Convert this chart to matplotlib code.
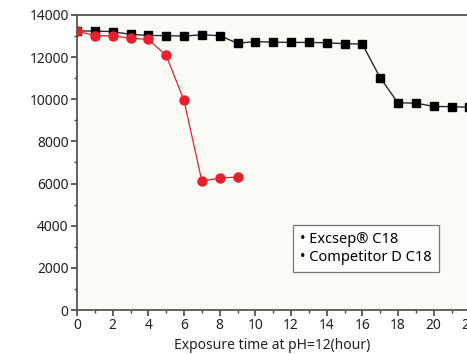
import matplotlib
matplotlib.use("Agg")
import matplotlib.pyplot as plt
from matplotlib.lines import Line2D
from matplotlib.ticker import MultipleLocator

plt.rcParams['font.family'] = ['Noto Sans', 'DejaVu Sans']

# data
hours_excsep = [0, 1, 2, 3, 4, 5, 6, 7, 8, 9, 10, 11, 12, 13, 14, 15, 16, 17, 18, 19, 20, 21, 22]
excsep = [13240, 13240, 13210, 13080, 13030, 13020, 13000, 13060, 13020, 12660, 12740, 12710,
          12700, 12700, 12680, 12640, 12620, 11020, 9830, 9820, 9660, 9650, 9620]
hours_comp = [0, 1, 2, 3, 4, 5, 6, 7, 8, 9]
competitor = [13240, 13020, 13010, 12900, 12840, 12080, 9950, 6120, 6260, 6310]
labels = ['Excsep\u00ae C18', 'Competitor D C18']

fig = plt.figure(figsize=(4.67, 3.54), dpi=100)
ax = fig.add_axes([77 / 467, 44 / 354, 428 / 467, 295 / 354])
ax.set_facecolor('#fbfbf6')

ax.plot(hours_excsep, excsep, color='#2a2a2a', lw=1.0, marker='s', ms=5.5,
        mfc='black', mec='black', zorder=3)
ax.plot(hours_comp, competitor, color='#e8202e', lw=0.9, marker='o', ms=6.5,
        mfc='#e8202e', mec='#e8202e', zorder=4)

ax.set_xlim(0, 24)
ax.set_ylim(0, 14000)
ax.xaxis.set_major_locator(MultipleLocator(2))
ax.xaxis.set_minor_locator(MultipleLocator(1))
ax.yaxis.set_major_locator(MultipleLocator(2000))
ax.yaxis.set_minor_locator(MultipleLocator(1000))
ax.tick_params(which='major', direction='out', length=4, width=1.2, color='#444',
               labelsize=10, labelcolor='#222', pad=2)
ax.tick_params(which='minor', direction='out', length=2.5, width=1.0, color='#444')
ax.tick_params(top=False, right=False)
for s in ax.spines.values():
    s.set_color('#555')
    s.set_linewidth(1.3)

ax.set_xlabel('Exposure time at pH=12(hour)', fontsize=10, color='#222')
# x label centred on the visible part of the axis
ax.xaxis.set_label_coords((272 - 77) / 428, -0.095)

handles = [Line2D([], [], linestyle='none') for _ in labels]
leg = ax.legend(handles, ['\u2022 ' + s for s in labels], loc='lower left',
                bbox_to_anchor=(0.505, 0.128), handlelength=0, handletextpad=0,
                fontsize=10.5, frameon=True, fancybox=False, borderpad=0.5,
                labelspacing=0.2, borderaxespad=0)
leg.get_frame().set_edgecolor('#555')
leg.get_frame().set_linewidth(0.9)
leg.get_frame().set_facecolor('white')

fig.savefig('out.png', dpi=100)
